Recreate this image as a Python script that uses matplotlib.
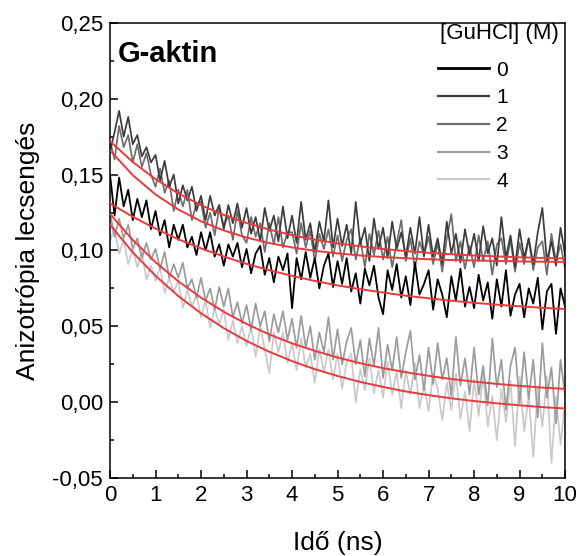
import numpy as np
import matplotlib
matplotlib.use("Agg")
import matplotlib.pyplot as plt
from matplotlib.ticker import MultipleLocator, FuncFormatter

plt.rcParams['font.family'] = ['Liberation Sans', 'DejaVu Sans']

# time axis (ns), 0.1 ns steps
t = np.arange(101) / 10.0

# anisotropy traces (x 1e-3)
conc_labels = ['0', '1', '2', '3', '4']
r0 = [150,123,148,129,140,120,134,122,133,114,
      126,110,120,102,117,107,117,102,109,97,
      112,100,112,96,104,90,104,96,105,89,
      101,85,98,103,84,95,79,96,87,98,
      62,95,81,99,82,95,75,90,98,76,
      93,78,95,73,85,65,88,77,90,69,
      58,87,74,91,69,83,64,92,71,78,
      87,61,81,71,56,83,67,88,63,76,
      62,84,67,79,55,81,63,87,57,71,
      78,56,75,65,82,48,73,78,45,75,63]
r1 = [165,178,192,175,188,170,176,162,168,158,
      163,146,159,142,150,131,143,133,142,126,
      136,120,136,123,130,114,130,118,131,115,
      128,111,122,106,128,113,123,106,129,108,
      123,105,132,107,118,99,119,106,133,102,
      121,103,117,98,132,104,115,93,121,101,
      115,95,119,101,112,96,115,98,122,96,
      117,96,108,91,119,98,111,92,114,97,
      111,93,116,98,108,90,122,95,110,89,
      114,95,108,91,112,128,93,106,90,115,97]
r2 = [172,160,182,168,176,158,170,155,164,150,
      142,154,138,146,126,140,129,140,120,131,
      132,115,125,110,128,116,123,107,126,110,
      105,122,109,118,99,118,104,122,102,112,
      112,98,118,102,113,93,111,101,114,96,
      110,93,107,114,94,108,89,111,97,113,
      94,109,89,105,120,93,108,88,106,97,
      109,91,105,86,108,124,93,106,88,103,
      89,110,93,106,84,104,108,91,107,86,
      105,91,108,87,102,106,84,111,93,104,88]
r3 = [125,109,121,108,117,101,108,95,105,94,
      101,88,99,82,91,82,92,75,81,69,
      82,67,75,61,76,63,75,56,66,52,
      64,48,65,50,60,40,58,46,60,41,
      55,36,57,36,50,28,46,33,56,28,
      48,25,40,49,25,41,17,42,24,49,
      16,38,21,43,16,33,47,15,31,8,
      36,12,39,15,29,4,43,11,29,5,
      36,5,24,-2,42,10,28,-5,24,36,
      -1,33,2,28,-10,39,3,23,-14,28,4]
r4 = [106,115,98,107,91,101,89,99,81,90,
      80,89,72,82,73,80,62,74,63,71,
      56,67,49,62,51,61,41,54,39,50,
      37,50,30,50,35,19,46,33,46,26,
      39,21,42,23,32,13,35,20,35,15,
      32,9,26,32,0,22,8,29,6,21,
      3,27,5,20,-4,21,5,26,-4,12,
      -6,19,9,-12,13,-5,19,-11,7,-19,
      15,-9,19,-16,4,-25,9,-13,14,-29,
      17,-19,4,-36,10,-16,17,-40,4,-28,0]

# fitted curves (x 1e-3), read at 0.5 ns steps
t_fit = np.arange(21) / 2.0
fitA = [172,158.3,147.0,137.6,129.8,123.4,118.1,113.8,110.1,107.1,104.7,
        102.7,101.0,99.6,98.5,97.5,96.7,96.1,95.5,95.1,94.7]
fitB = [166,149.6,136.9,127.0,119.2,113.2,108.5,104.9,102.0,99.8,98.1,
        96.7,95.7,94.9,94.2,93.7,93.4,93.1,92.8,92.6,92.5]
fitC = [131,122.2,114.4,107.4,101.4,96.0,91.2,87.0,83.3,79.9,77.0,
        74.5,72.3,70.2,68.5,66.9,65.5,64.3,63.2,62.2,61.4]
fitD = [124,106.9,92.3,79.7,68.9,59.6,51.6,44.7,38.8,33.9,29.5,
        25.7,22.5,19.8,17.4,15.3,13.6,12.1,10.8,9.7,8.8]
fitE = [117,98.8,83.3,70.0,58.6,48.8,40.4,33.3,27.1,21.8,17.3,
        13.4,10.1,7.1,4.7,2.6,0.8,-0.7,-2.0,-3.2,-4.1]

traces = [r0, r1, r2, r3, r4]
fits = [fitA, fitB, fitC, fitD, fitE]
colors = ['#000000', '#3c3c3c', '#6e6e6e', '#9c9c9c', '#cacaca']
widths = [1.3, 1.25, 1.25, 1.25, 1.25]

fig = plt.figure(figsize=(5.79, 5.56), dpi=100)
ax = fig.add_axes([0.190, 0.140, 0.786, 0.819])

lines = {}
for i in [4, 3, 2, 1, 0]:
    ln, = ax.plot(t, np.array(traces[i]) / 1000.0, color=colors[i],
                  lw=widths[i], zorder=2 + (4 - i) * 0.1)
    lines[i] = ln

for f in fits:
    ax.plot(t_fit, np.array(f) / 1000.0, color='#e8393c', lw=1.4, zorder=5)

ax.set_xlim(0, 10)
ax.set_ylim(-0.05, 0.25)
ax.xaxis.set_major_locator(MultipleLocator(1))
ax.xaxis.set_minor_locator(MultipleLocator(0.5))
ax.yaxis.set_major_locator(MultipleLocator(0.05))
ax.yaxis.set_minor_locator(MultipleLocator(0.025))
ax.yaxis.set_major_formatter(FuncFormatter(lambda v, p: f"{v:.2f}".replace('.', ',').replace('-0,00', '0,00')))
ax.tick_params(which='major', direction='in', length=6, width=1.1, labelsize=16,
               top=False, right=False, pad=5)
ax.tick_params(which='minor', direction='in', length=3, width=1.1, top=False, right=False)
for s in ax.spines.values():
    s.set_linewidth(1.1)

ax.set_xlabel('Idő (ns)', fontsize=19, labelpad=18)
ax.set_ylabel('Anizotrópia lecsengés', fontsize=19, labelpad=9)

ax.text(0.018, 0.962, 'G-aktin', transform=ax.transAxes, fontsize=21,
        fontweight='bold', va='top', ha='left')

# legend title as separate text, legend entries below it
ax.text(0.725, 0.977, '[GuHCl] (M)', transform=ax.transAxes, fontsize=16,
        va='center', ha='left')
handles = [lines[i] for i in range(5)]
leg = ax.legend(handles, conc_labels, loc='upper left',
                bbox_to_anchor=(0.721, 0.917), frameon=False, fontsize=15,
                handlelength=2.45, handletextpad=0.35,
                labelspacing=0.42, borderaxespad=0.0, borderpad=0.0)
for i, lh in enumerate(leg.get_lines()):
    lh.set_linewidth(2.0 if i == 0 else 1.6)

fig.savefig('out.png', dpi=100, facecolor='white')
